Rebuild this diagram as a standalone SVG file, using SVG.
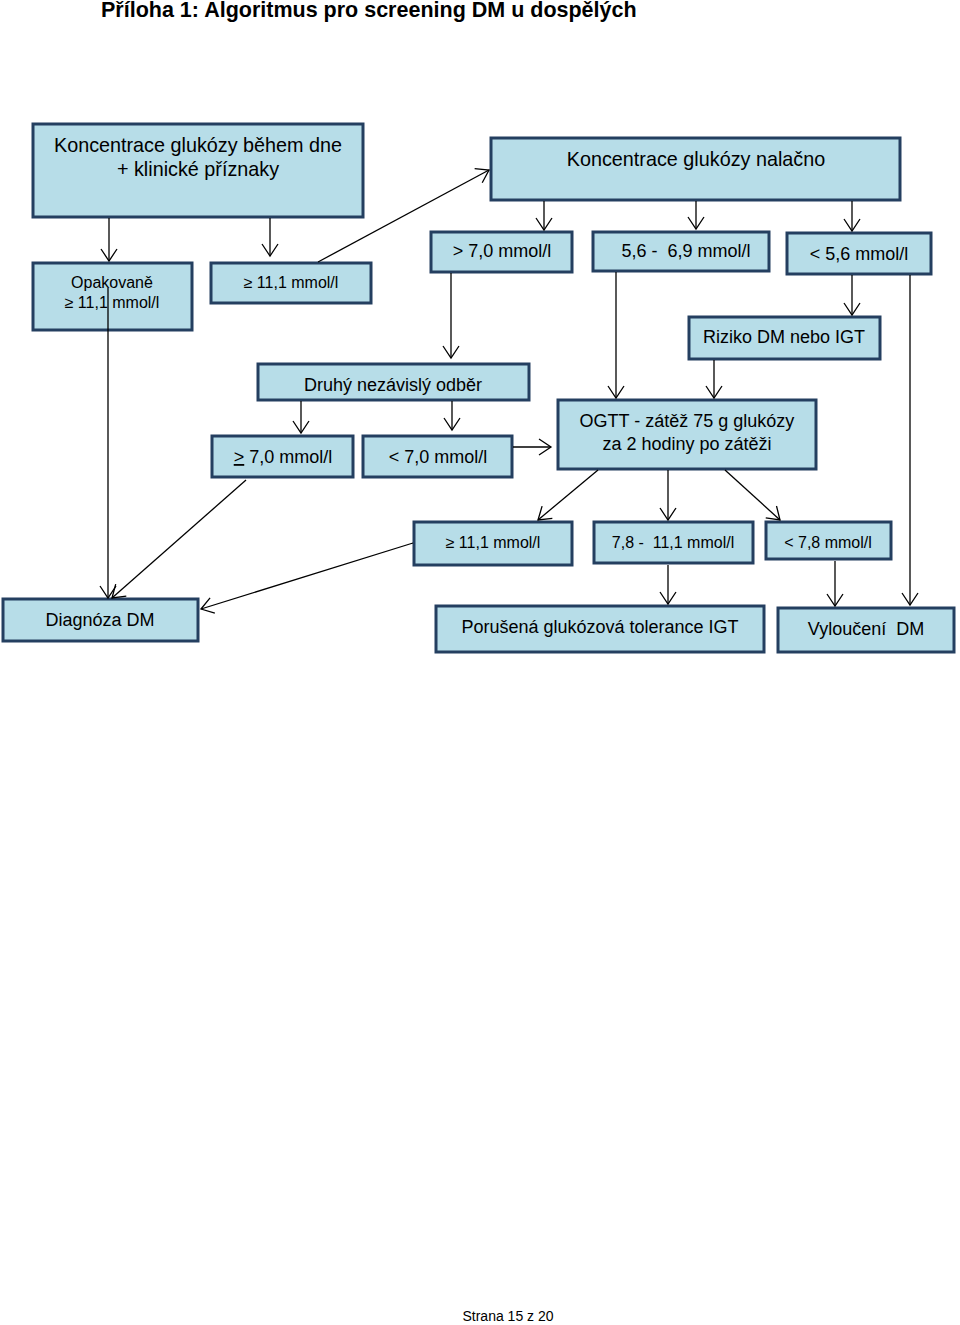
<svg xmlns="http://www.w3.org/2000/svg" width="960" height="1325" viewBox="0 0 960 1325">
<style>
.box{fill:#b7dde8;stroke:#243f60;stroke-width:3}
.t{font-family:"Liberation Sans",Arial,sans-serif;fill:#000;text-anchor:middle;white-space:pre}
.big{font-size:19.8px}
.mid{font-size:18px}
.sm{font-size:16px}
.c line{stroke:#000;stroke-width:1.3;fill:none;marker-end:url(#ah)}
</style>
<defs>
<marker id="ah" markerUnits="userSpaceOnUse" markerWidth="16" markerHeight="20" refX="14" refY="9" orient="auto">
<path d="M2,1 L14,9 L2,17" fill="none" stroke="#000" stroke-width="1.3"/>
</marker>
</defs>
<rect width="960" height="1325" fill="#fff"/>
<text x="101" y="17" style="font-family:'Liberation Sans',Arial,sans-serif;font-size:21.5px;font-weight:bold">Příloha 1: Algoritmus pro screening DM u dospělých</text>

<g id="nA"><rect class="box" x="33" y="124" width="330" height="93"/>
<text class="t big" x="198" y="152">Koncentrace glukózy během dne</text>
<text class="t big" x="198" y="176">+ klinické příznaky</text></g>
<g id="nB"><rect class="box" x="491" y="138" width="409" height="62"/>
<text class="t big" x="696" y="166">Koncentrace glukózy nalačno</text></g>
<g id="nC"><rect class="box" x="33" y="263" width="159" height="67"/>
<text class="t sm" x="112" y="288">Opakovaně</text>
<text class="t sm" x="112" y="308">≥ 11,1 mmol/l</text></g>
<g id="nD"><rect class="box" x="211" y="263" width="160" height="40"/>
<text class="t sm" x="291" y="288">≥ 11,1 mmol/l</text></g>
<g id="nE"><rect class="box" x="431" y="232" width="141" height="40"/>
<text class="t mid" x="502" y="257">&gt; 7,0 mmol/l</text></g>
<g id="nF"><rect class="box" x="593" y="232" width="176" height="39"/>
<text class="t mid" x="686" y="257">5,6 -  6,9 mmol/l</text></g>
<g id="nG"><rect class="box" x="787" y="233" width="144" height="41"/>
<text class="t mid" x="859" y="260">&lt; 5,6 mmol/l</text></g>
<g id="nH"><rect class="box" x="689" y="317" width="191" height="42"/>
<text class="t mid" x="784" y="343">Riziko DM nebo IGT</text></g>
<g id="nI"><rect class="box" x="258" y="364" width="271" height="36"/>
<text class="t mid" x="393" y="391">Druhý nezávislý odběr</text></g>
<g id="nJ"><rect class="box" x="212" y="436" width="141" height="41"/>
<text class="t mid" x="283" y="463"><tspan text-decoration="underline">&gt;</tspan> 7,0 mmol/l</text></g>
<g id="nK"><rect class="box" x="363" y="436" width="149" height="41"/>
<text class="t mid" x="438" y="463">&lt; 7,0 mmol/l</text></g>
<g id="nL"><rect class="box" x="558" y="400" width="258" height="69"/>
<text class="t mid" x="687" y="427">OGTT - zátěž 75 g glukózy</text>
<text class="t mid" x="687" y="450">za 2 hodiny po zátěži</text></g>
<g id="nM"><rect class="box" x="414" y="522" width="158" height="43"/>
<text class="t sm" x="493" y="548">≥ 11,1 mmol/l</text></g>
<g id="nN"><rect class="box" x="594" y="522" width="159" height="41"/>
<text class="t sm" x="673" y="548">7,8 -  11,1 mmol/l</text></g>
<g id="nO"><rect class="box" x="766" y="522" width="125" height="37"/>
<text class="t sm" x="828" y="548">&lt; 7,8 mmol/l</text></g>
<g id="nP"><rect class="box" x="3" y="599" width="195" height="42"/>
<text class="t mid" x="100" y="626">Diagnóza DM</text></g>
<g id="nQ"><rect class="box" x="436" y="606" width="328" height="46"/>
<text class="t mid" x="600" y="633">Porušená glukózová tolerance IGT</text></g>
<g id="nR"><rect class="box" x="778" y="608" width="176" height="44"/>
<text class="t mid" x="866" y="635">Vyloučení  DM</text></g>

<g id="connectors" class="c">
<line x1="109" y1="218" x2="109" y2="261"/>
<line x1="270" y1="218" x2="270" y2="256"/>
<line x1="318" y1="262" x2="489" y2="170"/>
<line x1="544" y1="201" x2="544" y2="230"/>
<line x1="696" y1="201" x2="696" y2="229"/>
<line x1="852" y1="201" x2="852" y2="231"/>
<line x1="852" y1="275" x2="852" y2="315"/>
<line x1="910" y1="275" x2="910" y2="605"/>
<line x1="451" y1="273" x2="451" y2="358"/>
<line x1="616" y1="272" x2="616" y2="398"/>
<line x1="714" y1="360" x2="714" y2="398"/>
<line x1="301" y1="401" x2="301" y2="433"/>
<line x1="452" y1="401" x2="452" y2="430"/>
<line x1="513" y1="447" x2="551" y2="447"/>
<line x1="108" y1="288" x2="108" y2="598"/>
<line x1="246" y1="480" x2="112" y2="598"/>
<line x1="413" y1="543" x2="201" y2="609"/>
<line x1="598" y1="470" x2="538" y2="520"/>
<line x1="668" y1="470" x2="668" y2="520"/>
<line x1="725" y1="470" x2="780" y2="520"/>
<line x1="668" y1="565" x2="668" y2="604"/>
<line x1="835" y1="561" x2="835" y2="606"/>
</g>
<text x="508" y="1321" class="t" style="font-size:14px">Strana 15 z 20</text>
</svg>
